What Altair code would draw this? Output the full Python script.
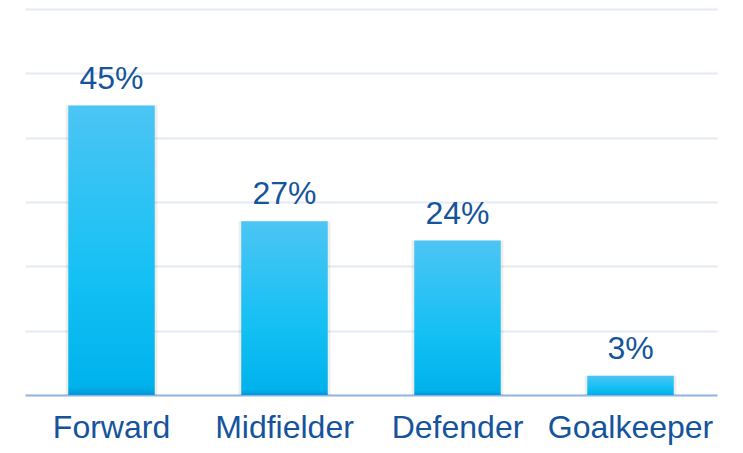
import altair as alt
import pandas as pd

positions = ["Forward", "Midfielder", "Defender", "Goalkeeper"]
shares = [45, 27, 24, 3]
labels = ["45%", "27%", "24%", "3%"]

df = pd.DataFrame({"position": positions, "share": shares, "label": labels})

FONT = "Liberation Sans"
TEXT_COLOR = "#15549C"

x = alt.X("position:N", sort=positions,
          scale=alt.Scale(paddingInner=0, paddingOuter=0),
          axis=alt.Axis(title=None, labelAngle=0, labelFontSize=32, labelFont=FONT,
                        labelColor=TEXT_COLOR, ticks=False, labelPadding=17,
                        domainColor="#8DB3E2", domainWidth=2, grid=False))
y = alt.Y("share:Q", scale=alt.Scale(domain=[0, 60], nice=False),
          axis=alt.Axis(title=None, labels=False, ticks=False, domain=False,
                        values=[10, 20, 30, 40, 50, 60], gridColor="#E3EAF4", gridWidth=2))

base = alt.Chart(df)

shadow = base.mark_bar(color="#000000", opacity=0.07,
                       width=alt.RelativeBandSize(0.53)).encode(x=x, y=y)

bars = base.mark_bar(
    width=alt.RelativeBandSize(0.5),
    color=alt.Gradient(
        gradient="linear",
        stops=[alt.GradientStop(color="#4CC5F4", offset=0),
               alt.GradientStop(color="#14C0F4", offset=0.6),
               alt.GradientStop(color="#00B2EC", offset=0.97),
               alt.GradientStop(color="#0098D8", offset=1)],
        x1=0, x2=0, y1=0, y2=1),
).encode(x=x, y=y)

text = base.mark_text(baseline="alphabetic", dy=-17, fontSize=32, font=FONT,
                      color=TEXT_COLOR).encode(x=x, y=y, text="label:N")

chart = (shadow + bars + text).properties(
    width=692, height=386,
    autosize=alt.AutoSizeParams(type="none"),
    padding={"left": 17, "top": 1, "right": 10, "bottom": 50},
).configure_view(stroke=None)

chart.save("out.html", embed_options={"renderer": "svg", "actions": False})
